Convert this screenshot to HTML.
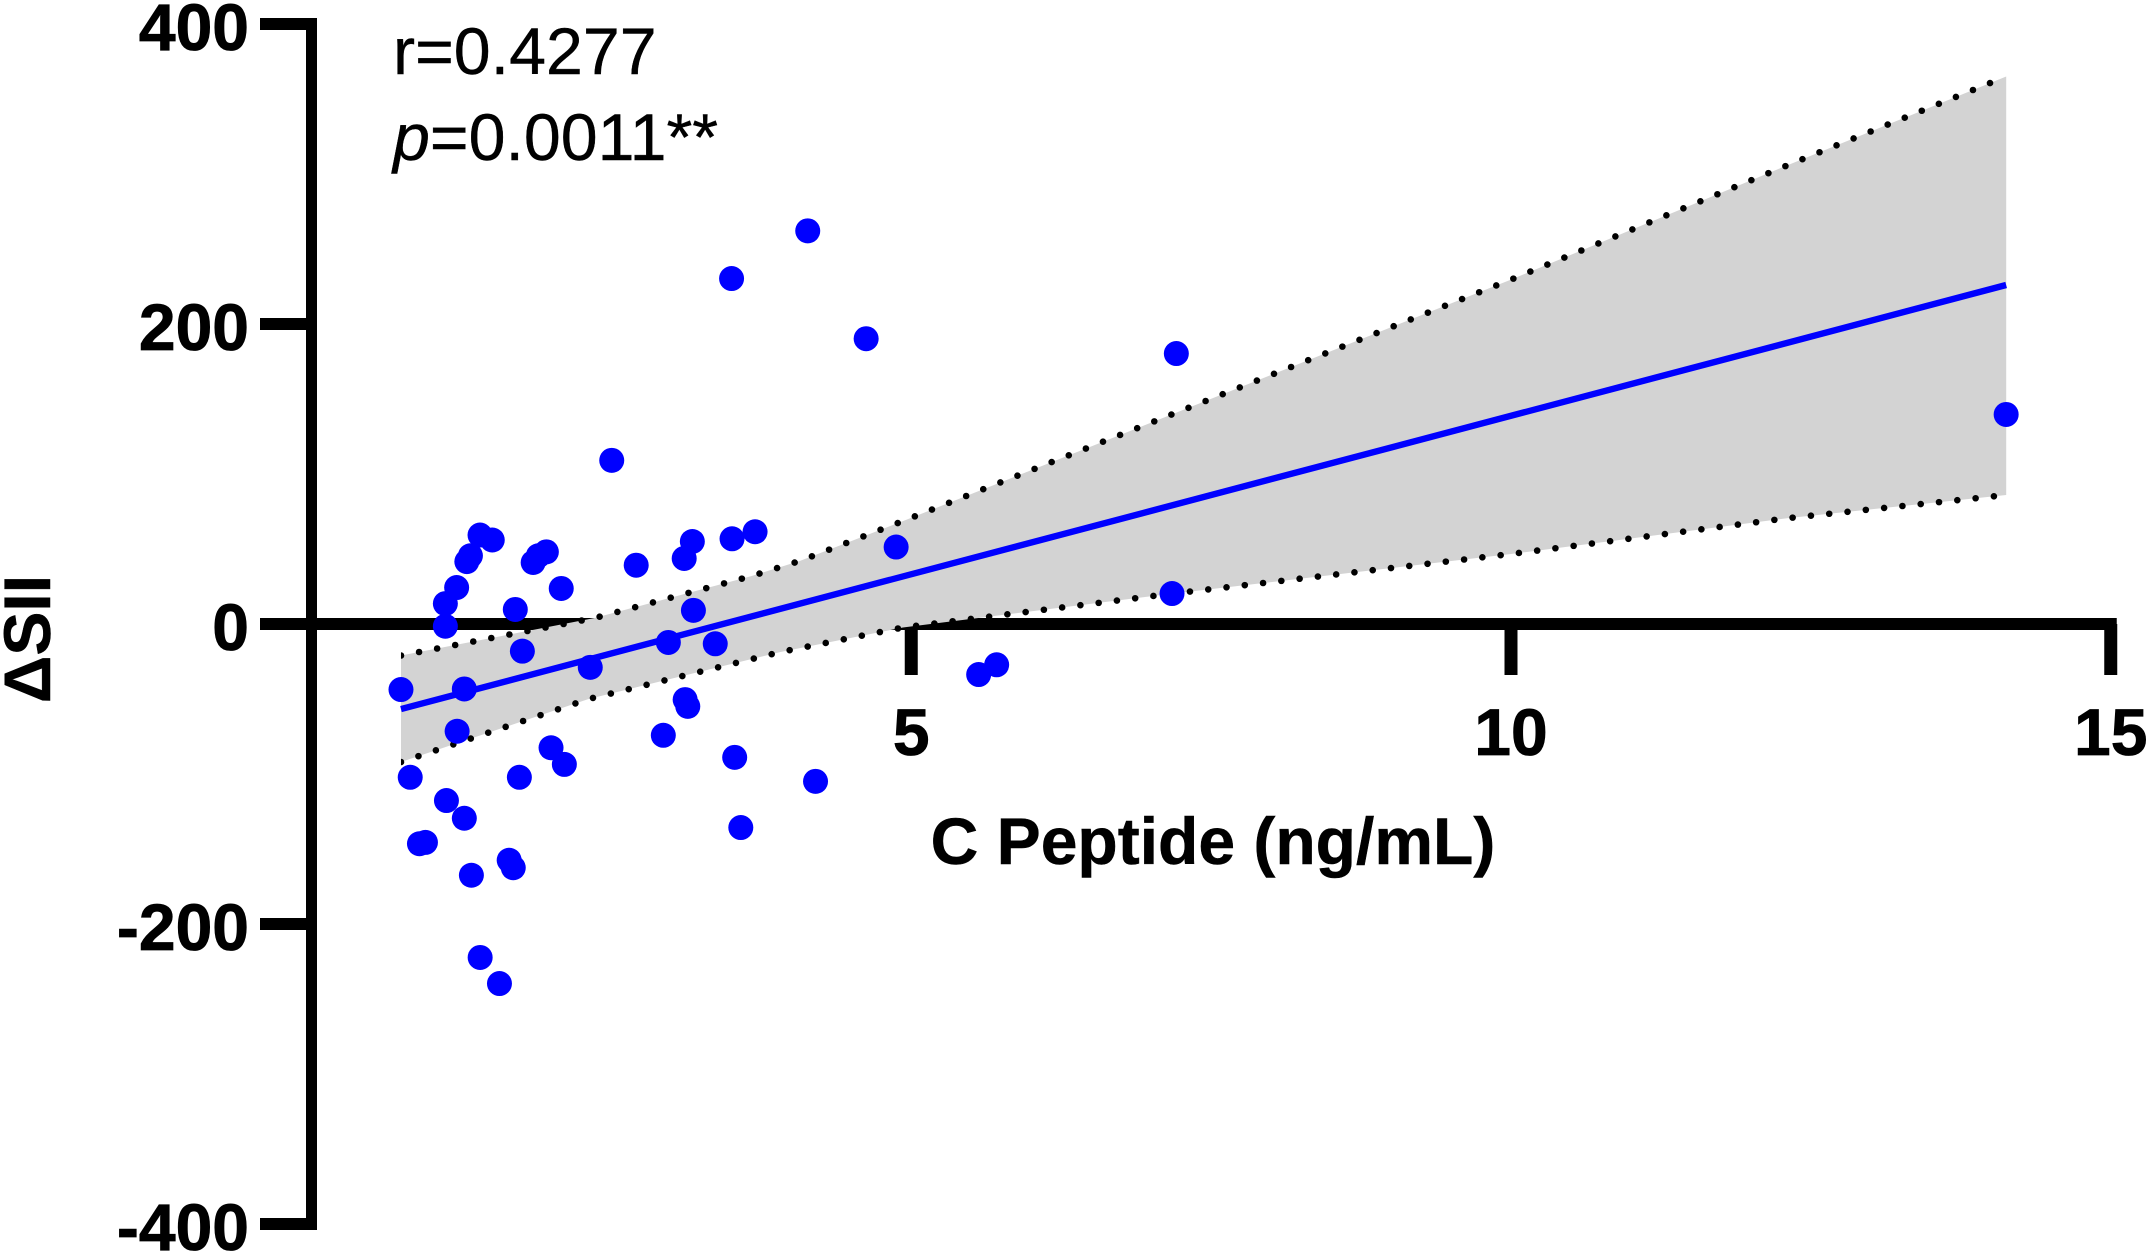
<!DOCTYPE html>
<html lang="en">
<head>
<meta charset="utf-8">
<title>C Peptide vs ΔSII</title>
<style>
html,body{margin:0;padding:0;background:#fff;width:2147px;height:1251px;overflow:hidden}
svg{display:block}
text{font-family:"Liberation Sans",Arial,sans-serif;fill:#000}
.tick-text{font-size:66px;font-weight:700;stroke:#000;stroke-width:.8px}
.axis-title{font-size:66px;font-weight:700;stroke:#000;stroke-width:.5px}
.stat{font-size:66.3px;stroke:#000;stroke-width:.4px}
</style>
</head>
<body>
<svg id="chart" xmlns="http://www.w3.org/2000/svg" width="2147" height="1251" viewBox="0 0 2147 1251">
  <defs>
    <clipPath id="band-clip"><rect id="band-clip-rect" y="0" height="1251"></rect></clipPath>
  </defs>
  <g id="x-axis"></g>
  <path id="ci-band" fill="#d3d3d3" stroke="none"></path>
  <g clip-path="url(#band-clip)">
    <path id="ci-upper" fill="none" stroke="#000" stroke-width="6.6" stroke-linecap="round" stroke-dasharray="0 18.4"></path>
    <path id="ci-lower" fill="none" stroke="#000" stroke-width="6.6" stroke-linecap="round" stroke-dasharray="0 18.4"></path>
  </g>
  <line id="fit-line" stroke="#0000ff" stroke-width="6.4"></line>
  <g id="points" fill="#0000ff"></g>
  <g id="y-axis"></g>
  <text class="axis-title" x="1213" y="864" text-anchor="middle">C Peptide (ng/mL)</text>
  <text class="axis-title" transform="translate(50 639) rotate(-90)" text-anchor="middle">ΔSII</text>
  <text class="stat" x="393" y="74">r=0.4277</text>
  <text class="stat" x="393" y="160"><tspan font-style="italic">p</tspan>=0.0011**</text>
</svg>
<script>
const xTicks = [5, 10, 15];
const yTicks = [400, 200, 0, -200, -400];
const pointX = [3.502,2.503,1.405,1.507,1.325,1.295,1.210,1.116,1.116,1.699,2.082,1.958,1.891,1.848,2.707,3.175,3.107,3.184,3.506,3.698,1.758,2.324,2.975,3.366,0.746,1.274,1.214,1.997,2.108,1.733,0.823,1.125,1.274,0.900,0.950,1.648,1.682,1.333,1.406,1.567,2.933,3.115,3.137,3.528,3.579,4.137,4.624,7.210,14.128,4.874,7.174,5.712,5.562,4.202];
const pointY = [230.3,109.1,59.3,56,45.5,41.6,24.3,13.6,-1.5,9.7,23.7,48.1,45.5,41,39.2,55,43.7,9.1,56.8,61.5,-18.1,-28.9,-12.3,-13.2,-43.7,-43.3,-71.5,-82.5,-93.6,-102.2,-102.2,-117.7,-129.5,-146.5,-145.6,-157.5,-162.5,-167.5,-222.3,-239.7,-74.2,-50.4,-54.9,-88.9,-135.7,262.1,190.2,180.3,139.7,51.3,20.3,-27.2,-33.7,-104.9];
const fitX = [0.746, 14.128];
const fitY = [-56.7, 226];
const upperX = [0.746,2.36,3.67,4.07,4.93,7.15,10,12.31,14.128];
const upperY = [-21,4,32,42,68.6,139,229.6,306,365];
const lowerX = [0.746,2.31,3.91,4.93,7.15,10,12.31,14.128];
const lowerY = [-92,-50,-18.7,-2.3,20,46.7,70.6,86];

const NS = 'http://www.w3.org/2000/svg';
const sx = v => 311.5 + v * 119.95;
const sy = v => 624 - v * 1.5;
const AXIS_W = 12;

function make(tag, attrs, parent) {
  const el = document.createElementNS(NS, tag);
  for (const k in attrs) el.setAttribute(k, attrs[k]);
  parent.appendChild(el);
  return el;
}

const xAxis = document.getElementById('x-axis');
const yAxis = document.getElementById('y-axis');
const xMax = xTicks[xTicks.length - 1];

const xLine = make('line', {x1: 260, x2: sx(xMax) + AXIS_W / 2, y1: sy(0), y2: sy(0), stroke: '#000', 'stroke-width': AXIS_W}, xAxis);



xTicks.forEach(t => {
  const tick = make('line', {x1: sx(t), x2: sx(t), y1: sy(0), y2: 675, stroke: '#000', 'stroke-width': 13}, xAxis);
  
  
  const label = make('text', {x: sx(t), y: 755, 'text-anchor': 'middle', class: 'tick-text'}, xAxis);
  
  
  label.textContent = t;
});

const yLine = make('line', {x1: 311.5, x2: 311.5, y1: sy(yTicks[0]) - AXIS_W / 2, y2: sy(yTicks[yTicks.length - 1]) + AXIS_W / 2, stroke: '#000', 'stroke-width': 11}, yAxis);



yTicks.forEach(t => {
  const tick = make('line', {x1: 260, x2: 311.5, y1: sy(t), y2: sy(t), stroke: '#000', 'stroke-width': AXIS_W}, yAxis);
  
  
  const label = make('text', {x: 249, y: sy(t) + 26, 'text-anchor': 'end', class: 'tick-text'}, yAxis);
  
  
  label.textContent = t;
});

const clipRect = document.getElementById('band-clip-rect');
clipRect.setAttribute('x', sx(upperX[0]));
clipRect.setAttribute('width', sx(upperX[upperX.length - 1]) - sx(upperX[0]));

const toPath = (xs, ys) => xs.map((x, i) => (i ? 'L' : 'M') + sx(x).toFixed(1) + ' ' + sy(ys[i]).toFixed(1)).join(' ');
const upperPath = toPath(upperX, upperY);
const lowerPath = toPath(lowerX, lowerY);
const lowerRev = lowerX.map((x, i) => 'L' + sx(x).toFixed(1) + ' ' + sy(lowerY[i]).toFixed(1)).reverse().join(' ');
document.getElementById('ci-band').setAttribute('d', upperPath + ' ' + lowerRev + ' Z');
document.getElementById('ci-upper').setAttribute('d', upperPath);
document.getElementById('ci-lower').setAttribute('d', lowerPath);

const fit = document.getElementById('fit-line');
fit.setAttribute('x1', sx(fitX[0]));
fit.setAttribute('y1', sy(fitY[0]));
fit.setAttribute('x2', sx(fitX[1]));
fit.setAttribute('y2', sy(fitY[1]));

const pts = document.getElementById('points');
pointX.forEach((x, i) => {
  const c = make('circle', {cx: sx(x), cy: sy(pointY[i]), r: 12.5}, pts);
  
  
});
</script>
</body>
</html>
